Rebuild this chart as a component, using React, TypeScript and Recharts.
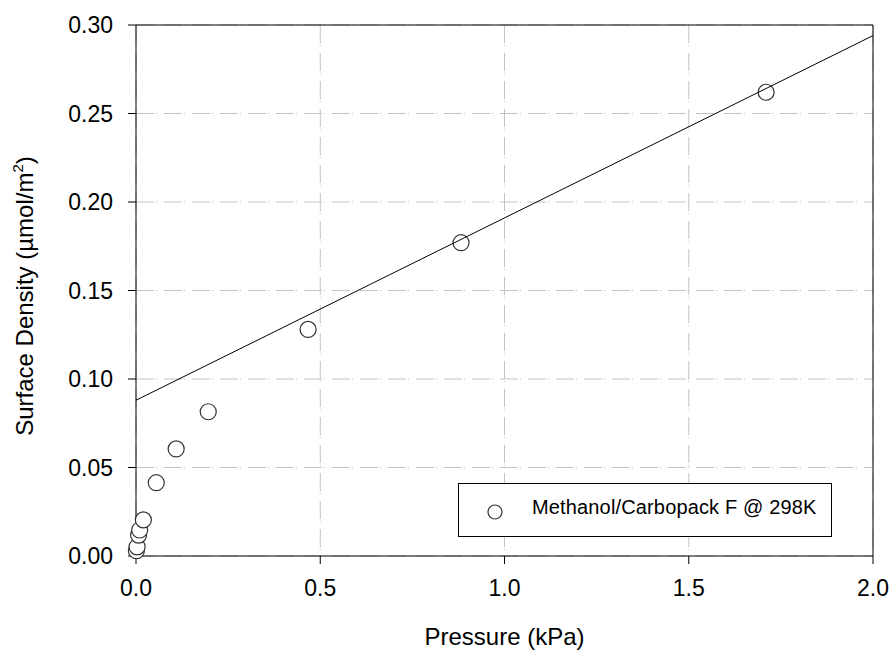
import React from 'react';
import {
  ComposedChart,
  Scatter,
  XAxis,
  YAxis,
  CartesianGrid,
  ReferenceLine,
  Legend,
} from 'recharts';

const pressureKPa = [0.001, 0.003, 0.007, 0.010, 0.020, 0.055, 0.109, 0.196, 0.467, 0.882, 1.710];
const surfaceDensity = [0.003, 0.0052, 0.0118, 0.0147, 0.0204, 0.0414, 0.0605, 0.0815, 0.128, 0.177, 0.262];
const fitX = [0, 2.0];
const fitY = [0.088, 0.294];
const xTicks = [0, 0.5, 1.0, 1.5, 2.0];
const yTicks = [0, 0.05, 0.1, 0.15, 0.2, 0.25, 0.3];
const seriesName = 'Methanol/Carbopack F @ 298K';

const points = pressureKPa.map((x, i) => ({ x, y: surfaceDensity[i] }));
const fitLine = fitX.map((x, i) => ({ x, y: fitY[i] }));

const FONT = '"Liberation Sans", Arial, sans-serif';

const Circle = (props: any) => {
  const { cx, cy } = props;
  if (cx == null || cy == null) return <g />;
  return <circle cx={cx} cy={cy} r={8} fill="#fff" stroke="#333" strokeWidth={1.2} />;
};

const NoShape = () => <g />;

const LegendBox = () => (
  <div
    style={{
      width: 372,
      height: 52,
      border: '1px solid #000',
      background: '#fff',
      position: 'relative',
      boxSizing: 'content-box',
      fontFamily: FONT,
    }}
  >
    <svg width={30} height={30} style={{ position: 'absolute', left: 21, top: 13 }}>
      <circle cx={15} cy={15} r={7} fill="#fff" stroke="#333" strokeWidth={1.2} />
    </svg>
    <span
      style={{
        position: 'absolute',
        left: 73,
        top: 12,
        fontSize: 20,
        lineHeight: '23px',
        color: '#000',
        whiteSpace: 'nowrap',
        letterSpacing: 0.15,
      }}
    >
      {seriesName}
    </span>
  </div>
);

const YLabel = () => {
  const cx = 33;
  const cy = 296;
  return (
    <text
      x={cx}
      y={cy}
      transform={`rotate(-90, ${cx}, ${cy})`}
      textAnchor="middle"
      fontFamily={FONT}
      fontSize={24}
      fill="#000"
    >
      Surface Density (µmol/m
      <tspan dy={-10} fontSize={15}>2</tspan>
      <tspan dy={10}>)</tspan>
    </text>
  );
};

const XLabel = (props: any) => {
  const vb = props.viewBox || {};
  const cx = (vb.x ?? 136) + (vb.width ?? 737) / 2;
  return (
    <text x={cx} y={645} textAnchor="middle" fontFamily={FONT} fontSize={24} fill="#000">
      Pressure (kPa)
    </text>
  );
};

export default function App() {
  return (
    <div style={{ position: 'absolute', left: 0, top: 0, width: 892, height: 650, background: '#fff' }}>
      <ComposedChart width={892} height={650} margin={{ top: 25, right: 19, bottom: 0, left: 0 }}>
        <CartesianGrid stroke="#c4c4c4" strokeDasharray="18 2 1 7" />
        <XAxis
          dataKey="x"
          type="number"
          domain={[0, 2]}
          ticks={xTicks}
          tickFormatter={(v: number) => v.toFixed(1)}
          height={94}
          tickSize={8}
          tickMargin={16}
          stroke="#000"
          tick={{ fill: '#000', fontSize: 23, fontFamily: FONT }}
          label={<XLabel />}
        />
        <YAxis
          dataKey="y"
          type="number"
          domain={[0, 0.3]}
          ticks={yTicks}
          tickFormatter={(v: number) => v.toFixed(2)}
          width={136}
          tickSize={8}
          tickMargin={15}
          stroke="#000"
          tick={{ fill: '#000', fontSize: 23, fontFamily: FONT }}
          label={<YLabel />}
        />
        <ReferenceLine y={0.3} stroke="#000" strokeWidth={1} />
        <ReferenceLine x={2} stroke="#000" strokeWidth={1} />
        <Scatter
          name={seriesName}
          data={points}
          shape={<Circle />}
          isAnimationActive={false}
        />
        <Scatter
          name="fit"
          data={fitLine}
          line={{ stroke: '#000', strokeWidth: 1 }}
          shape={<NoShape />}
          legendType="none"
          isAnimationActive={false}
        />
        <Legend
          layout="horizontal"
          verticalAlign="middle"
          align="center"
          content={<LegendBox />}
          wrapperStyle={{ position: 'absolute', left: 458, top: 483, width: 374, height: 54 }}
        />
      </ComposedChart>
    </div>
  );
}
